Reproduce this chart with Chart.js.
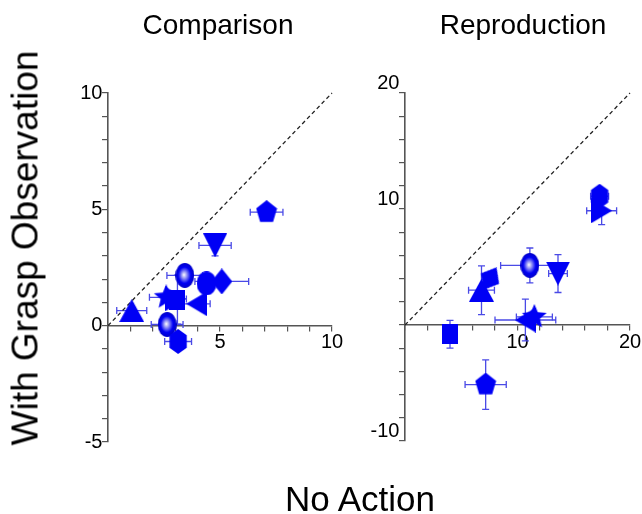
<!DOCTYPE html>
<html><head><meta charset="utf-8">
<script src="https://cdn.jsdelivr.net/npm/chart.js@4/dist/chart.umd.min.js"></script>
<style>
html,body{margin:0;padding:0;background:#fff;width:642px;height:514px;overflow:hidden;position:relative;font-family:'Liberation Sans',Arial,sans-serif;color:#000}
canvas{position:absolute;top:0}
#c1{left:0}
#c2{left:360px}
.lbl{position:absolute;white-space:nowrap;line-height:1}
</style></head><body>
<canvas id="c1" width="360" height="514"></canvas>
<canvas id="c2" width="282" height="514"></canvas>
<div class="lbl" id="t1" style="font-size:28px;left:218px;top:11px;transform:translateX(-50%)">Comparison</div>
<div class="lbl" id="t2" style="font-size:28px;left:523px;top:11px;transform:translateX(-50%)">Reproduction</div>
<div class="lbl" id="xl" style="font-size:35px;left:360px;top:481px;transform:translateX(-50%)">No Action</div>
<div class="lbl" id="yl" style="font-size:37px;left:25px;top:248px;transform:translate(-50%,-50%) rotate(-90deg)">With Grasp Observation</div>
<script>
// ---- data ----
const panelTitles = ['Comparison', 'Reproduction'];
const markers = ['square','triangle','triangleDown','diamond','pentagon','hexagon','sphere','circle','triangleLeft','star','triangleRight','sphere2'];
// Comparison panel
const compX    = [3.10, 1.06, 4.78, 5.08, 7.08, 3.13, 3.43, 4.40, 3.96, 2.60, 3.00, 2.64];
const compY    = [1.12, 0.65, 3.45, 1.90, 4.88, -0.68, 2.16, 1.82, 0.94, 1.22, 1.15, 0.05];
const compXErr = [0.00, 0.67, 0.72, 1.20, 0.73, 0.60, 0.80, 0.30, 0.60, 0.75, 0.50, 0.71];
const compYErr = [1.05, 0.00, 0.45, 0.00, 0.00, 0.00, 0.20, 0.00, 0.00, 0.00, 0.00, 0.00];
// Reproduction panel
const reprX    = [4.00, 6.80, 13.60, 7.56, 7.17, 17.30, 11.10, null, 10.70, 11.50, 17.48, null];
const reprY    = [-0.80, 3.00, 4.43, 4.00, -5.14, 11.10, 5.14, null, 0.43, 0.70, 9.85, null];
const reprXErr = [0.00, 1.15, 0.83, 0.50, 1.83, 0.80, 2.60, 0, 2.70, 1.60, 1.33, 0];
const reprYErr = [1.20, 2.10, 1.63, 0.50, 2.14, 0.50, 1.50, 0, 1.80, 0.30, 1.20, 0];
const compXTicks = [5, 10], compYTicks = [-5, 0, 5, 10];
const reprXTicks = [10, 20], reprYTicks = [-10, 10, 20];
const compDiag = [0, 10], reprDiag = [0, 20];

// ---- styling ----
const BLUE = '#0000f5', ERR = '#4a4ae6', AXIS = '#555';
Chart.defaults.font.family = "'Liberation Sans', Arial, sans-serif";

function mk(w, h, draw) {
  const c = document.createElement('canvas'); c.width = w; c.height = h;
  const g = c.getContext('2d'); g.fillStyle = BLUE; g.beginPath(); draw(g, w, h); g.fill(); return c;
}
function poly(g, pts) { pts.forEach((p, i) => i ? g.lineTo(p[0], p[1]) : g.moveTo(p[0], p[1])); g.closePath(); }
function regular(g, w, h, n, rot) {
  const pts = [];
  for (let i = 0; i < n; i++) { const a = rot + i * 2 * Math.PI / n; pts.push([w/2 + Math.cos(a) * w/2, h/2 + Math.sin(a) * h/2]); }
  poly(g, pts);
}
function sphere(w, h) {
  const c = document.createElement('canvas'); c.width = w; c.height = h;
  const g = c.getContext('2d');
  g.save(); g.translate(w/2, h/2); g.scale(1, h / w);
  const r = w / 2;
  const grd = g.createRadialGradient(-r*0.1, -r*0.05, 0, 0, 0, r);
  grd.addColorStop(0, '#ffffff'); grd.addColorStop(0.3, '#8a8af5'); grd.addColorStop(0.65, BLUE); grd.addColorStop(1, '#0000c8');
  g.fillStyle = grd; g.beginPath(); g.arc(0, 0, r, 0, Math.PI * 2); g.fill(); g.restore();
  return c;
}
const styles = {
  square: mk(16, 20, (g, w, h) => g.rect(0, 0, w, h)),
  triangle: mk(25, 23, (g, w, h) => poly(g, [[w/2, 0], [w, h], [0, h]])),
  triangleDown: mk(24, 24, (g, w, h) => poly(g, [[0, 0], [w, 0], [w/2, h]])),
  diamond: mk(21, 26, (g, w, h) => poly(g, [[w/2, 0], [w, h/2], [w/2, h], [0, h/2]])),
  pentagon: mk(22, 24, (g, w, h) => regular(g, w, h, 5, -Math.PI/2)),
  hexagon: mk(20, 25, (g, w, h) => regular(g, w, h, 6, -Math.PI/2)),
  sphere: sphere(19, 25),
  circle: mk(20, 24, (g, w, h) => g.ellipse(w/2, h/2, w/2, h/2, 0, 0, Math.PI * 2)),
  triangleLeft: mk(21, 25, (g, w, h) => poly(g, [[0, h/2], [w, 0], [w, h]])),
  star: mk(26, 26, (g, w, h) => { const p = []; for (let i = 0; i < 10; i++) { const a = -Math.PI/2 + i * Math.PI/5, rr = i % 2 ? 0.45 : 1; p.push([w/2 + Math.cos(a) * w/2 * rr, h/2 + Math.sin(a) * h/2 * rr]); } poly(g, p); }),
  triangleRight: mk(21, 25, (g, w, h) => poly(g, [[w, h/2], [0, 0], [0, h]])),
  sphere2: sphere(19, 25)
};

const errorBars = {
  id: 'errorBars',
  beforeDatasetsDraw(chart) {
    const {ctx, scales: {x, y}} = chart;
    ctx.save(); ctx.strokeStyle = ERR; ctx.lineWidth = 1.3;
    chart.data.datasets.forEach(ds => {
      if (!ds.err) return;
      const p = ds.data[0]; if (p.x == null || p.y == null) return;
      const px = x.getPixelForValue(p.x), py = y.getPixelForValue(p.y);
      ctx.beginPath();
      if (ds.err.x > 0) {
        const a = x.getPixelForValue(p.x - ds.err.x), b = x.getPixelForValue(p.x + ds.err.x);
        ctx.moveTo(a, py); ctx.lineTo(b, py);
        ctx.moveTo(a, py - 3.5); ctx.lineTo(a, py + 3.5);
        ctx.moveTo(b, py - 3.5); ctx.lineTo(b, py + 3.5);
      }
      if (ds.err.y > 0) {
        const a = y.getPixelForValue(p.y - ds.err.y), b = y.getPixelForValue(p.y + ds.err.y);
        ctx.moveTo(px, a); ctx.lineTo(px, b);
        ctx.moveTo(px - 3.5, a); ctx.lineTo(px + 3.5, a);
        ctx.moveTo(px - 3.5, b); ctx.lineTo(px + 3.5, b);
      }
      ctx.stroke();
    });
    ctx.restore();
  }
};

function zeroFit(s, horiz) {
  if (horiz) s.height = 0; else s.width = 0;
  s.paddingLeft = s.paddingRight = s.paddingTop = s.paddingBottom = 0;
}

function makeChart(id, xs, ys, xe, ye, xmin, xmax, ymin, ymax, xStep, yStep, xTicks, yTicks, diag, pad, yAlign, rot) {
  const datasets = markers.map((m, i) => ({
    label: m,
    data: [{x: xs[i], y: ys[i]}],
    err: {x: xe[i], y: ye[i]},
    pointStyle: styles[m],
    pointRadius: 10,
    rotation: rot[m] || 0,
    showLine: false,
    clip: false,
    order: 1
  }));
  datasets.push({
    type: 'line',
    label: 'diag',
    data: [{x: diag[0], y: diag[0]}, {x: diag[1], y: diag[1]}],
    borderColor: '#222', borderWidth: 1.3, borderDash: [4, 3],
    pointRadius: 0, fill: false, clip: false, order: 100
  });
  return new Chart(document.getElementById(id), {
    type: 'scatter',
    data: {datasets},
    plugins: [errorBars],
    options: {
      responsive: false, animation: false, events: [],
      layout: {padding: pad},
      plugins: {legend: {display: false}, tooltip: {enabled: false}, title: {display: false}},
      scales: {
        x: {
          type: 'linear', min: xmin, max: xmax, position: {y: 0},
          afterFit: s => zeroFit(s, true),
          border: {display: true, color: AXIS, width: 1.6},
          grid: {display: true, drawOnChartArea: false, drawTicks: true, tickLength: 5, color: AXIS, lineWidth: 1.2},
          ticks: {stepSize: xStep, autoSkip: false, maxRotation: 0, color: '#000', font: {size: 20}, padding: 0,
                  callback: v => xTicks.includes(v) ? String(v) : ''}
        },
        y: {
          type: 'linear', min: ymin, max: ymax, position: {x: 0},
          afterFit: s => zeroFit(s, false),
          border: {display: true, color: AXIS, width: 1.6},
          grid: {display: true, drawOnChartArea: false, drawTicks: true, tickLength: 5, color: AXIS, lineWidth: 1.2},
          ticks: {stepSize: yStep, autoSkip: false, color: '#000', font: {size: 20}, padding: 0, align: yAlign,
                  callback: v => yTicks.includes(v) ? String(v) + ' ' : ''}
        }
      }
    }
  });
}

makeChart('c1', compX, compY, compXErr, compYErr, 0, 10, -5, 10, 1, 1, compXTicks, compYTicks, compDiag,
  {left: 108, right: 28, top: 93, bottom: 72}, 'center', {});
makeChart('c2', reprX, reprY, reprXErr, reprYErr, 0, 20, -10, 20, 2, 2, reprXTicks, reprYTicks, reprDiag,
  {left: 45, right: 12, top: 93, bottom: 73}, 'end', {diamond: 30});
</script>
</body></html>
